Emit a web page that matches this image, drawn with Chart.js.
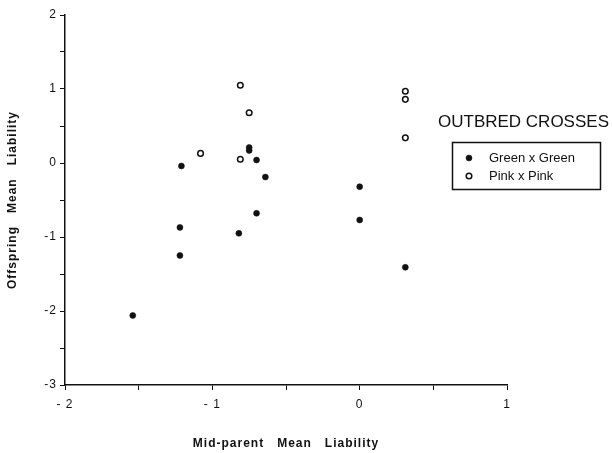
<!DOCTYPE html>
<html>
<head>
<meta charset="utf-8">
<script src="https://cdn.jsdelivr.net/npm/chart.js@4/dist/chart.umd.min.js"></script>
<style>
  html, body { margin: 0; padding: 0; background: #fff; }
  #wrap { width: 612px; height: 453px; }
</style>
</head>
<body>
<div id="wrap"><canvas id="liabilityChart" width="612" height="453"></canvas></div>
<script>
// mid-parent vs offspring liability, outbred crosses
const greenX = [-1.54, -1.22, -1.22, -1.21, -0.82, -0.70, -0.75, -0.75, -0.70, -0.64, 0.0, 0.0, 0.31];
const greenY = [-2.06, -1.25, -0.87, -0.04, -0.95, -0.68, 0.21, 0.17, 0.04, -0.19, -0.32, -0.77, -1.41];
const pinkX = [-1.08, -0.81, -0.75, -0.81, 0.31, 0.31, 0.31];
const pinkY = [0.13, 1.05, 0.68, 0.05, 0.97, 0.86, 0.34];

const xTickLabels = { "-2": "- 2", "-1": "- 1", "0": "0", "1": "1" };
const yTickLabels = { "-3": "-3", "-2": "-2", "-1": "-1", "0": "0", "1": "1", "2": "2" };

const legendTitle = "OUTBRED CROSSES";

const toPoints = (xs, ys) => xs.map((x, i) => ({ x: x, y: ys[i] }));

const FONT = "'Liberation Sans', Arial, Helvetica, sans-serif";
Chart.defaults.font.family = FONT;
Chart.defaults.color = "#111";

// legend box drawn over the plot, top right
const boxLegend = {
    id: "boxLegend",
    afterDraw(chart) {
        const ctx = chart.ctx;
        ctx.save();
        ctx.fillStyle = "#111";
        ctx.font = "17px " + FONT;
        ctx.textBaseline = "middle";
        ctx.textAlign = "left";
        ctx.fillText(legendTitle, 438, 122);

        ctx.lineWidth = 1.5;
        ctx.strokeStyle = "#111";
        ctx.strokeRect(452.5, 142.5, 148, 47);

        ctx.font = "13px " + FONT;
        chart.data.datasets.forEach((ds, i) => {
            const y = 158 + i * 18;
            ctx.beginPath();
            ctx.arc(469, y, ds.pointRadius, 0, Math.PI * 2);
            ctx.fillStyle = ds.pointBackgroundColor;
            ctx.fill();
            ctx.lineWidth = ds.pointBorderWidth;
            ctx.strokeStyle = ds.pointBorderColor;
            ctx.stroke();
            ctx.fillStyle = "#111";
            ctx.fillText(ds.label, 489, y);
        });
        ctx.restore();
    },
};

// spaced-out lettering for the axis titles
const spacedText = {
    id: "spacedText",
    beforeDraw(chart) { chart.ctx.letterSpacing = "1px"; },
    afterDraw(chart) { chart.ctx.letterSpacing = "0px"; },
};

const ctx = document.getElementById("liabilityChart").getContext("2d");
new Chart(ctx, {
    type: "scatter",
    data: {
        datasets: [
            {
                label: "Green x Green",
                data: toPoints(greenX, greenY),
                pointRadius: 3,
                pointBackgroundColor: "#111",
                pointBorderColor: "#111",
                pointBorderWidth: 0.5,
            },
            {
                label: "Pink x Pink",
                data: toPoints(pinkX, pinkY),
                pointRadius: 2.8,
                pointBackgroundColor: "#fff",
                pointBorderColor: "#111",
                pointBorderWidth: 1.5,
            },
        ],
    },
    options: {
        responsive: false,
        animation: false,
        layout: { padding: { top: 15, right: 105, left: 0, bottom: 0 } },
        plugins: {
            legend: { display: false },
            tooltip: { enabled: false },
        },
        scales: {
            x: {
                type: "linear",
                min: -2,
                max: 1,
                afterFit: (s) => { s.height = 68; },
                border: { display: true, color: "#111", width: 1.5 },
                grid: { drawOnChartArea: false, drawTicks: true, tickLength: 5, color: "#111", lineWidth: 1 },
                ticks: {
                    stepSize: 0.5,
                    padding: 7,
                    maxRotation: 0,
                    autoSkip: false,
                    font: { size: 12 },
                    callback: (v) => xTickLabels[String(v)] ?? "",
                },
                title: {
                    display: true,
                    text: "Mid-parent   Mean   Liability",
                    font: { size: 12, weight: "bold" },
                    padding: { top: 0, bottom: 2 },
                },
            },
            y: {
                type: "linear",
                min: -3,
                max: 2,
                afterFit: (s) => { s.width = 65; },
                border: { display: true, color: "#111", width: 1.5 },
                grid: { drawOnChartArea: false, drawTicks: true, tickLength: 5, color: "#111", lineWidth: 1 },
                ticks: {
                    stepSize: 0.5,
                    padding: 3,
                    autoSkip: false,
                    font: { size: 12 },
                    callback: (v) => yTickLabels[String(v)] ?? "",
                },
                title: {
                    display: true,
                    text: "Offspring   Mean   Liability",
                    font: { size: 12, weight: "bold" },
                    padding: { top: 5, bottom: 0 },
                },
            },
        },
    },
    plugins: [spacedText, boxLegend],
});
</script>
</body>
</html>
